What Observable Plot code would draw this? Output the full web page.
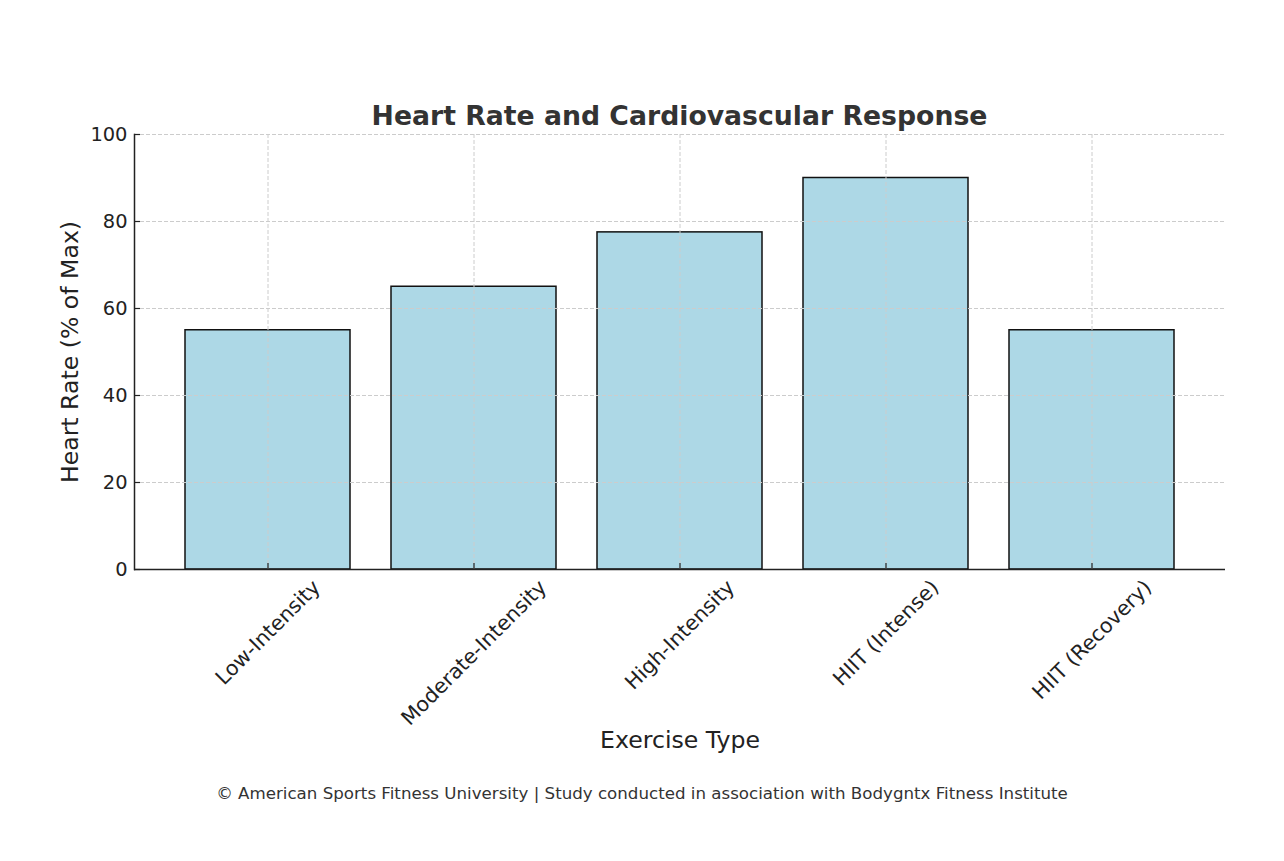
<!DOCTYPE html>
<html><head><meta charset="utf-8">
<script src="https://cdn.jsdelivr.net/npm/d3@7"></script>
<script src="https://cdn.jsdelivr.net/npm/@observablehq/plot@0.6"></script>
<style>
body{margin:0;background:#fff;font-family:"DejaVu Sans",sans-serif;}
#wrap{width:1284px;height:861px;overflow:hidden;}
#title{margin-left:134px;width:1091px;padding-top:100px;height:32px;line-height:32px;text-align:center;font-size:26.7px;font-weight:bold;color:#333;white-space:nowrap;}
#caption{width:1284px;padding-top:12px;line-height:24px;text-align:center;font-size:16.67px;color:#333;white-space:nowrap;}
</style>
</head><body>
<div id="wrap">
<div id="title"></div>
<div id="chart"></div>
<div id="caption"></div>
</div>
<script>
const categories = ["Low-Intensity", "Moderate-Intensity", "High-Intensity", "HIIT (Intense)", "HIIT (Recovery)"];
const heartRate = [55, 65, 77.5, 90, 55];
const yTicks = [0, 20, 40, 60, 80, 100];
const titleText = "Heart Rate and Cardiovascular Response";
const xLabel = "Exercise Type";
const yLabel = "Heart Rate (% of Max)";
const captionText = "© American Sports Fitness University | Study conducted in association with Bodygntx Fitness Institute";

const rows = categories.map((c, i) => ({category: c, value: heartRate[i]}));

document.getElementById("title").textContent = titleText;
document.getElementById("caption").textContent = captionText;

const W = 1284, H = 638, mL = 134, mR = 59, mT = 2, mB = 201;
const plotW = W - mL - mR, plotH = H - mT - mB;
const fsY = 19.44, fsX = 20.6, fsLabel = 23.6;
const ink = "#222";
const gridStyle = {stroke: "#cccccc", strokeOpacity: 1, strokeDasharray: "4,2", strokeWidth: 1};

const ctx = document.createElement("canvas").getContext("2d");
ctx.font = `${fsX}px "DejaVu Sans"`;
const lineH = fsX * 1.164;
const tickLabelMarks = categories.map(c => {
  const w = ctx.measureText(c).width;
  const half = (w + lineH) * Math.SQRT1_2 / 2;
  return Plot.text([c], {x: d => d, text: d => d, frameAnchor: "bottom", dy: 6 + half, rotate: -45,
    textAnchor: "middle", lineAnchor: "middle", fontSize: fsX, fill: ink});
});

const chart = Plot.plot({
  width: W, height: H,
  marginLeft: mL, marginRight: mR, marginTop: mT, marginBottom: mB,
  style: {fontFamily: "DejaVu Sans", overflow: "visible", background: "transparent"},
  x: {type: "band", domain: categories, paddingInner: 0.2, paddingOuter: 0.24, align: 0.5, axis: null},
  y: {domain: [0, 100], axis: null},
  marks: [
    Plot.barY(rows, {x: "category", y: "value", fill: "#add8e6", stroke: "#111", strokeWidth: 1.5}),
    Plot.gridY(yTicks, gridStyle),
    Plot.gridX(categories, gridStyle),
    Plot.tickY(yTicks, {y: d => d, insetRight: plotW - 6, stroke: ink, strokeWidth: 1.2}),
    Plot.tickX(categories, {x: d => d, insetTop: plotH - 6, stroke: ink, strokeWidth: 1.2}),
    Plot.axisY(yTicks, {tickSize: 0, tickPadding: 7, fontSize: fsY, color: ink, label: null}),
    Plot.ruleY([0], {stroke: ink, strokeWidth: 1.5}),
    Plot.frame({anchor: "left", stroke: ink, strokeWidth: 1.5}),
    ...tickLabelMarks,
    Plot.text([xLabel], {text: d => d, frameAnchor: "bottom", dy: 178, textAnchor: "middle", fontSize: fsLabel, fill: ink}),
    Plot.text([yLabel], {text: d => d, frameAnchor: "left", dx: -64, rotate: -90, textAnchor: "middle", lineAnchor: "middle", fontSize: fsLabel, fill: ink})
  ]
});
document.getElementById("chart").appendChild(chart);
</script>
</body></html>
